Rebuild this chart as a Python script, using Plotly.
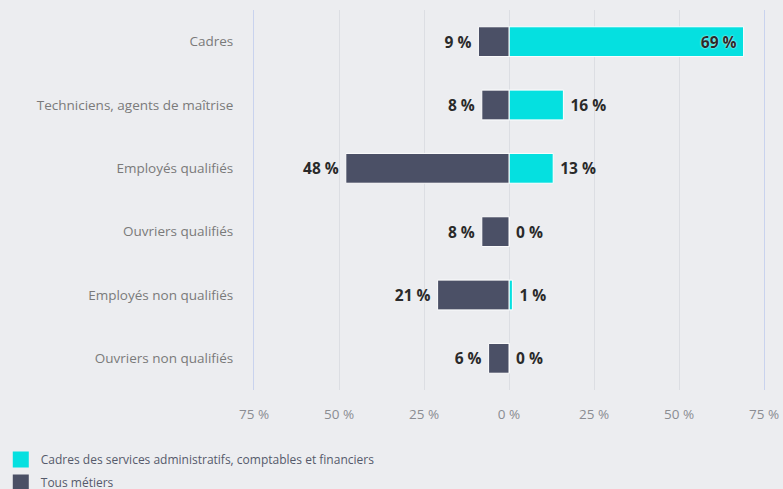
import plotly.graph_objects as go

categories = ["Cadres", "Techniciens, agents de maîtrise", "Employés qualifiés",
              "Ouvriers qualifiés", "Employés non qualifiés", "Ouvriers non qualifiés"]
cadres_admin = [69, 16, 13, 0, 1, 0]
tous_metiers = [9, 8, 48, 8, 21, 6]
tick_vals = [-75, -50, -25, 0, 25, 50, 75]
tick_text = ["75 %", "50 %", "25 %", "0 %", "25 %", "50 %", "75 %"]

name_a = "Cadres des services administratifs, comptables et financiers"
name_b = "Tous métiers"
col_a = "#05E0E0"
col_b = "#4B5066"
bg = "#ECEDF0"
NB = "\u00a0"
LBL = dict(family="Open Sans", size=15.5, color="#2A2A2A", weight="bold")

fig = go.Figure()
pos_a = ["inside" if v > 50 else "outside" for v in cadres_admin]
txt_a = [(f"{v} %{NB}" if v > 50 else f"{NB}{v} %") for v in cadres_admin]
fig.add_trace(go.Bar(
    y=categories, x=cadres_admin, orientation="h", name=name_a,
    marker=dict(color=col_a, line=dict(color="white", width=1)),
    text=txt_a, textposition=pos_a, insidetextanchor="end",
    textfont=LBL,
    insidetextfont=dict(LBL, shadow="0px 0px 2px white"),
    outsidetextfont=LBL,
    cliponaxis=False, showlegend=False, hoverinfo="skip",
))
fig.add_trace(go.Bar(
    y=categories, x=[-v for v in tous_metiers], orientation="h", name=name_b,
    marker=dict(color=col_b, line=dict(color="white", width=1)),
    text=[f"{v} %{NB}" for v in tous_metiers], textposition="outside",
    textfont=LBL,
    cliponaxis=False, showlegend=False, hoverinfo="skip",
))
# legend entries
for i, (nm, c) in enumerate([(name_a, col_a), (name_b, col_b)]):
    fig.add_trace(go.Scatter(
        x=[None], y=[None], mode="markers", name=nm, legendgroup=f"g{i}",
        marker=dict(symbol="square", size=18, color=c),
    ))

fig.update_layout(
    width=783, height=489,
    paper_bgcolor=bg, plot_bgcolor=bg,
    barmode="relative", bargap=0.53,
    margin=dict(l=254, r=19, t=10, b=99, autoexpand=False),
    font=dict(family="Open Sans", color="#777777"),
    legend=dict(
        xref="container", yref="container", x=0.001, y=1 - 445 / 489,
        xanchor="left", yanchor="top",
        orientation="v", bgcolor="rgba(0,0,0,0)",
        font=dict(family="Open Sans", size=12, color="#555A6B"),
        itemsizing="trace", tracegroupgap=4,
    ),
    xaxis=dict(
        range=[-75, 75], tickvals=tick_vals, ticktext=tick_text, tickangle=0,
        showgrid=True, gridcolor="#DCDEE3", gridwidth=1,
        zeroline=False, showline=False, automargin=False,
        ticks="outside", ticklen=12, tickcolor="rgba(0,0,0,0)",
        tickfont=dict(family="Open Sans", size=13.5, color="#8A8C92"),
        fixedrange=True,
    ),
    yaxis=dict(
        categoryorder="array", categoryarray=categories, autorange="reversed",
        showgrid=False, zeroline=False, automargin=False,
        showline=True, mirror=True, linecolor="#C9D3EE", linewidth=1,
        ticks="outside", ticklen=17, tickcolor="rgba(0,0,0,0)",
        tickfont=dict(family="Open Sans", size=13.5, color="#7A7A7A"),
        fixedrange=True,
    ),
)

fig.write_html("out.html", config={"displayModeBar": False},
               post_script="document.body.style.margin='0';document.body.style.overflow='hidden';")
